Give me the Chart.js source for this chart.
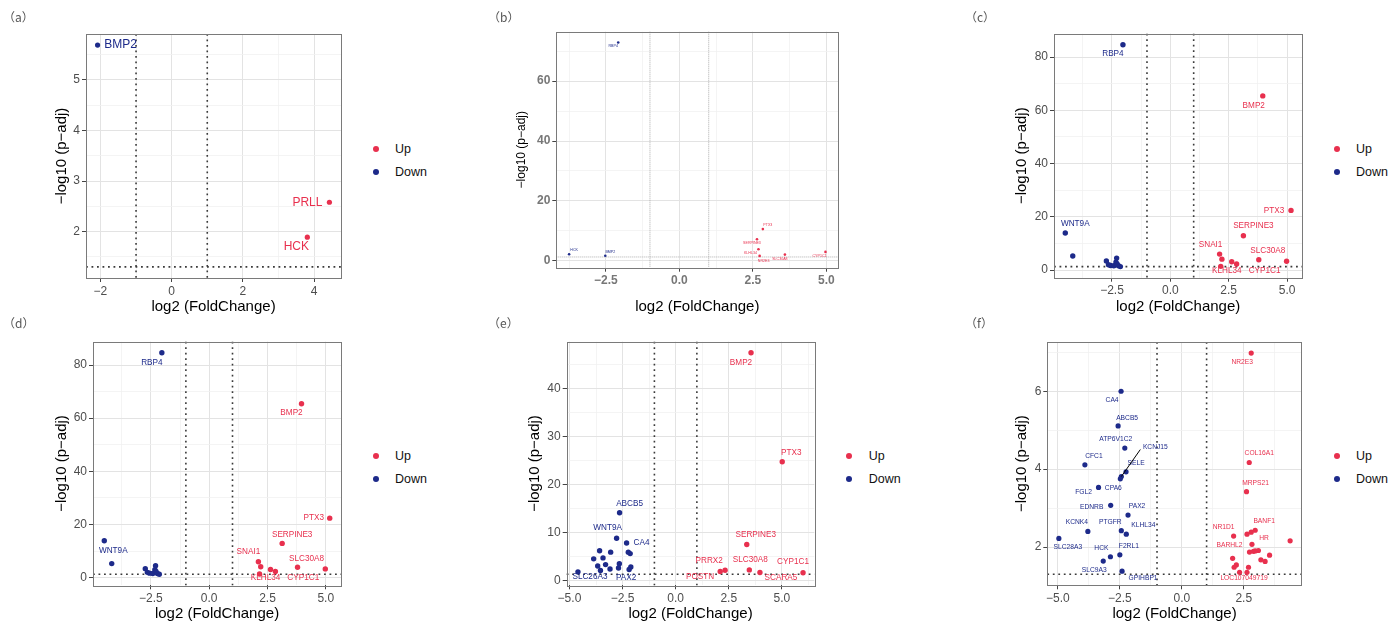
<!DOCTYPE html>
<html>
<head>
<meta charset="utf-8">
<script src="https://cdn.jsdelivr.net/npm/chart.js@4.4.1/dist/chart.umd.min.js"></script>
<style>
    body { margin: 0; background: #fff; width: 1400px; height: 626px; position: relative; overflow: hidden; font-family: "Liberation Sans", Arial, sans-serif; }
    canvas { position: absolute; }
    .tag { position: absolute; font-family: "Noto Sans CJK SC", sans-serif; font-size: 12px; line-height: 12px; color: #555; }
    .key { position: absolute; font-size: 12.5px; line-height: 14px; color: #111; }
    .dot { position: absolute; width: 6px; height: 6px; border-radius: 50%; }
</style>
</head>
<body>
<script>
// === Datos ===
const fcCut = [-1, 1];
const padjCut = -Math.log10(0.05);

// (a)
const aGenes = ['BMP2', 'PRLL', 'HCK'];
const aLogFC = [-2.08, 4.43, 3.81];
const aNegLogP = [5.69, 2.58, 1.89];

// (b)
const bGenes = ['RBP4', 'HCK', 'BMP2', 'PTX3', 'SERPINE3', 'KLHL34', 'NR2E3', 'SLC30A8', 'CYP1C1'];
const bLogFC = [-2.08, -3.75, -2.52, 2.84, 2.64, 2.69, 2.73, 3.59, 4.97];
const bNegLogP = [72.9, 2.2, 1.7, 10.6, 7.2, 3.9, 1.66, 2.1, 3.0];

// (c) y (d): mismos genes
const cGenes = ['RBP4', 'WNT9A', '', '', '', '', '', '', '', '', '', '',
    'BMP2', 'PTX3', 'SERPINE3', 'SNAI1', '', '', '', 'SLC30A8', 'CYP1C1', 'KLHL34'];
const cLogFC = [-2.03, -4.5, -4.18, -2.74, -2.3, -2.33, -2.56, -2.42, -2.22, -2.14, -2.65, -2.28,
    3.96, 5.17, 3.13, 2.11, 2.21, 2.63, 2.84, 3.79, 4.98, 2.16];
const cNegLogP = [84.6, 13.9, 5.3, 3.4, 4.5, 3.0, 1.7, 1.6, 1.6, 1.3, 2.0, 2.3,
    65.4, 22.4, 12.9, 6.0, 4.1, 3.1, 2.3, 3.9, 3.3, 1.4];

// (e)
const eGenes = ['ABCB5', 'WNT9A', 'CA4', '', '', '', '', '', '', '', '', '', '', '', '', 'PAX2', '', 'SLC26A3',
    'BMP2', 'PTX3', 'SERPINE3', 'SLC30A8', 'SCARA5', 'CYP1C1', 'PRRX2', 'POSTN'];
const eLogFC = [-2.64, -2.78, -2.31, -2.23, -2.14, -3.58, -3.06, -3.86, -3.42, -3.3, -3.67, -3.09, -2.65, -2.69, -2.11, -2.19, -3.54, -4.6,
    3.55, 5.02, 3.35, 3.47, 3.97, 6.0, 2.1, 2.33];
const eNegLogP = [14.1, 8.8, 7.8, 5.9, 5.6, 6.2, 5.9, 4.5, 4.7, 3.3, 3.0, 2.4, 3.5, 2.6, 2.8, 2.3, 2.1, 1.8,
    47.4, 24.7, 7.5, 2.2, 1.66, 1.6, 1.87, 2.14];

// (f)
const fGenes = ['CA4', 'ABCB5', 'ATP6V1C2', 'CFC1', 'SELE', 'KCNJ15', 'CPA6', 'FGL2', 'EDNRB', 'PAX2', 'PTGFR', 'KLHL34',
    'KCNK4', 'SLC28A3', 'F2RL1', 'HCK', 'SLC9A3', 'GPIHBP1',
    'NR2E3', 'COL16A1', 'MRPS21', 'NR1D1', '', '', 'BANF1', '', 'HR', 'BARHL2', '', '', '', '', '', '', '', '', '', '', '', 'LOC107049719'];
const fLogFC = [-2.45, -2.57, -2.3, -3.91, -2.25, -2.44, -2.48, -3.36, -2.87, -2.17, -2.44, -2.24,
    -3.79, -4.96, -2.5, -2.88, -3.17, -2.41,
    2.8, 2.72, 2.61, 2.09, 2.63, 2.8, 2.96, 4.37, 2.83, 2.73, 2.89, 3.09, 2.96, 3.54, 3.19, 3.36, 2.05, 2.2, 2.11, 2.69, 2.33, 2.63];
const fNegLogP = [6.0, 5.11, 4.54, 4.11, 3.93, 3.81, 3.75, 3.53, 3.07, 2.82, 2.42, 2.33,
    2.4, 2.22, 1.8, 1.75, 1.64, 1.38,
    6.98, 4.17, 3.42, 2.28, 2.33, 2.38, 2.43, 2.16, 2.07, 1.87, 1.89, 1.91, 1.9, 1.79, 1.67, 1.63, 1.71, 1.54, 1.48, 1.48, 1.35, 1.35];

// Ticks principales
const ticksA = { x: [-2, 0, 2, 4], y: [2, 3, 4, 5] };
const ticksB = { x: [-2.5, 0, 2.5, 5], y: [0, 20, 40, 60] };
const ticksC = { x: [-2.5, 0, 2.5, 5], y: [0, 20, 40, 60, 80] };
const ticksE = { x: [-5, -2.5, 0, 2.5, 5], y: [0, 10, 20, 30, 40] };
const ticksF = { x: [-5, -2.5, 0, 2.5], y: [2, 4, 6] };

// Posición de etiquetas (dx, dy en px respecto al punto; tercer valor = línea guía)
const aLabels = { BMP2: [23, 0], PRLL: [-22, 0], HCK: [-11, 10] };
const bLabels = { RBP4: [-5, 4], HCK: [5, -4], BMP2: [5, -4], PTX3: [5, -4], SERPINE3: [-5, 4],
    KLHL34: [-8, 4], NR2E3: [4, 5], SLC30A8: [-5, 4], CYP1C1: [-6, 4] };
const cLabels = { RBP4: [-10, 9], BMP2: [-9, 10], PTX3: [-17, 0], SERPINE3: [10, -10], SNAI1: [-9, -9],
    SLC30A8: [9, -9], KLHL34: [6, 4], CYP1C1: [-22, 9], WNT9A: [10, -9] };
const dLabels = { RBP4: [-10, 10], BMP2: [-10, 9], PTX3: [-16, 0], SERPINE3: [10, -9], SNAI1: [-10, -10],
    SLC30A8: [9, -9], KLHL34: [6, 4], CYP1C1: [-22, 9], WNT9A: [9, 10] };
const eLabels = { BMP2: [-10, 10], PTX3: [9, -9], SERPINE3: [9, -10], SLC30A8: [1, -10], CYP1C1: [-10, -11],
    SCARA5: [21, 5], PRRX2: [-11, -11], POSTN: [-25, 7], ABCB5: [10, -9], WNT9A: [-9, -10], CA4: [15, 0],
    SLC26A3: [12, 5], PAX2: [-3, 8] };
const fLabels = { NR2E3: [-9, 9], COL16A1: [10, -9], MRPS21: [9, -9], NR1D1: [-10, -9], BANF1: [9, -9],
    HR: [12, -6], BARHL2: [-20, -7], LOC107049719: [-3, 6], CA4: [-9, 9], ABCB5: [9, -8],
    ATP6V1C2: [-9, -9], KCNJ15: [34, -29, 19], SELE: [10, -9], CFC1: [9, -9], FGL2: [-15, 5], CPA6: [-7, 9],
    EDNRB: [-19, 2], PAX2: [9, -9], PTGFR: [-11, -9], KLHL34: [17, -9], KCNK4: [-11, -9], SLC28A3: [9, 9],
    HCK: [-9, -9], F2RL1: [9, -9], SLC9A3: [-9, 9], GPIHBP1: [21, 7] };

const upColor = '#E8304E';
const downColor = '#1D2A8A';
const fontFamily = '"Liberation Sans", Arial, sans-serif';

// Rango con expansión del 5% (como ggplot)
function expand(vals) {
    const lo = Math.min(...vals), hi = Math.max(...vals);
    const pad = (hi - lo) * 0.05;
    return [lo - pad, hi + pad];
}

function withMinor(major, range) {
    const step = major[1] - major[0];
    const out = [];
    for (let v = major[0] - step; v <= major[major.length - 1] + step + 1e-9; v += step / 2) {
        if (v >= range[0] && v <= range[1]) out.push(+v.toFixed(4));
    }
    return out;
}

function fmt(v, dec) {
    return (v < 0 ? '\u2212' : '') + Math.abs(v).toFixed(dec);
}

const cutLines = {
    id: 'cutLines',
    beforeDatasetsDraw(chart, args, opts) {
        const { ctx, chartArea: a, scales: { x, y } } = chart;
        ctx.save();
        ctx.strokeStyle = opts.color;
        ctx.lineWidth = opts.width;
        ctx.setLineDash(opts.dash);
        fcCut.forEach(v => {
            const px = x.getPixelForValue(v);
            ctx.beginPath(); ctx.moveTo(px, a.top); ctx.lineTo(px, a.bottom); ctx.stroke();
        });
        const py = y.getPixelForValue(padjCut);
        ctx.beginPath(); ctx.moveTo(a.left, py); ctx.lineTo(a.right, py); ctx.stroke();
        ctx.restore();
    },
    afterDraw(chart) {
        const { ctx, chartArea: a } = chart;
        ctx.save();
        ctx.strokeStyle = '#7a7a7a';
        ctx.lineWidth = 1;
        ctx.strokeRect(Math.round(a.left) + 0.5, Math.round(a.top) + 0.5,
            Math.round(a.right - a.left), Math.round(a.bottom - a.top));
        ctx.restore();
    }
};

const geneLabels = {
    id: 'geneLabels',
    afterDatasetsDraw(chart, args, opts) {
        const ctx = chart.ctx;
        ctx.save();
        ctx.font = opts.size + 'px ' + fontFamily;
        ctx.textAlign = 'center';
        ctx.textBaseline = 'middle';
        chart.data.datasets.forEach((ds, i) => {
            const meta = chart.getDatasetMeta(i);
            meta.data.forEach((pt, j) => {
                const gene = ds.data[j].gene;
                const pos = opts.pos[gene];
                if (!gene || !pos) return;
                if (pos[2]) {
                    ctx.strokeStyle = '#000';
                    ctx.lineWidth = 1;
                    ctx.beginPath();
                    ctx.moveTo(pt.x, pt.y);
                    ctx.lineTo(pt.x + pos[2], pt.y + pos[1] + 2);
                    ctx.stroke();
                }
                ctx.fillStyle = ds.backgroundColor;
                ctx.fillText(gene, pt.x + pos[0], pt.y + pos[1]);
            });
        });
        ctx.restore();
    }
};

function axis(major, range, dec, size, title, horizontal, p) {
    const isMajor = v => major.some(m => Math.abs(m - v) < 1e-6);
    return {
        type: 'linear',
        min: range[0],
        max: range[1],
        afterBuildTicks: s => { s.ticks = withMinor(major, range).map(v => ({ value: v })); },
        afterFit: s => { if (horizontal) s.height = size; else s.width = size; },
        border: { display: false },
        grid: {
            color: c => c.tick && isMajor(c.tick.value) ? '#e3e3e3' : '#f1f1f1',
            lineWidth: c => c.tick && isMajor(c.tick.value) ? 1 : 0.8,
            tickColor: c => c.tick && isMajor(c.tick.value) ? '#444' : 'rgba(0,0,0,0)',
            tickLength: 4,
            drawTicks: true
        },
        ticks: {
            autoSkip: false,
            maxRotation: 0,
            padding: 2,
            color: p.tickColor || '#4d4d4d',
            font: { family: fontFamily, size: 12, weight: p.tickWeight || 'normal' },
            callback: v => isMajor(v) ? fmt(v, dec) : ''
        },
        title: {
            display: true,
            text: title,
            color: '#000',
            font: { family: fontFamily, size: horizontal ? 15 : (p.yTitleSize || 15) },
            padding: horizontal ? { top: 0, bottom: p.xTitlePad } : { top: p.yTitlePad, bottom: 0 }
        }
    };
}

function drawPanel(p) {
    const cv = document.createElement('canvas');
    cv.width = p.box[2];
    cv.height = p.box[3];
    cv.style.left = p.box[0] + 'px';
    cv.style.top = p.box[1] + 'px';
    document.body.appendChild(cv);

    const xr = expand(p.fc.concat(fcCut));
    const yr = expand(p.p.concat([padjCut]));
    const up = [], down = [];
    p.fc.forEach((v, i) => (v > 0 ? up : down).push({ x: v, y: p.p[i], gene: p.genes[i] }));

    new Chart(cv.getContext('2d'), {
        type: 'scatter',
        data: {
            datasets: [
                { label: 'Up', data: up, backgroundColor: upColor, pointRadius: p.r, borderWidth: 0 },
                { label: 'Down', data: down, backgroundColor: downColor, pointRadius: p.r, borderWidth: 0 }
            ]
        },
        options: {
            responsive: false,
            animation: false,
            devicePixelRatio: 1,
            layout: { padding: { left: 0, top: p.padTop, right: p.padRight, bottom: 0 } },
            plugins: {
                legend: { display: false },
                tooltip: { enabled: false },
                geneLabels: { size: p.labelSize, pos: p.labels },
                cutLines: p.cut
            },
            scales: {
                x: axis(p.ticks.x, xr, p.xDec, p.xH, 'log2 (FoldChange)', true, p),
                y: axis(p.ticks.y, yr, 0, p.yW, '\u2212log10 (p\u2212adj)', false, p)
            }
        },
        plugins: [cutLines, geneLabels]
    });
}

function addTag(text, x, y) {
    const d = document.createElement('div');
    d.className = 'tag';
    d.textContent = text;
    d.style.left = x + 'px';
    d.style.top = y + 'px';
    document.body.appendChild(d);
}

function addLegend(x, ys, textX) {
    [['Up', upColor, ys[0]], ['Down', downColor, ys[1]]].forEach(([t, c, yy]) => {
        const d = document.createElement('div');
        d.className = 'dot';
        d.style.background = c;
        d.style.left = (x - 3) + 'px';
        d.style.top = (yy - 3) + 'px';
        document.body.appendChild(d);
        const k = document.createElement('div');
        k.className = 'key';
        k.textContent = t;
        k.style.left = textX + 'px';
        k.style.top = (yy - 7) + 'px';
        document.body.appendChild(k);
    });
}

const boldCut = { color: '#3a3a3a', width: 1.6, dash: [1.8, 3.7] };
const thinCut = { color: '#999', width: 0.8, dash: [1, 1] };

drawPanel({ box: [0, 0, 350, 316], genes: aGenes, fc: aLogFC, p: aNegLogP, ticks: ticksA, xDec: 0,
    padTop: 34, padRight: 9, yW: 86, xH: 38, yTitlePad: 53, xTitlePad: 0.3,
    r: 2.6, labelSize: 12, labels: aLabels, cut: boldCut });
drawPanel({ box: [470, 0, 380, 316], genes: bGenes, fc: bLogFC, p: bNegLogP, ticks: ticksB, xDec: 1,
    padTop: 31.7, padRight: 11.7, yW: 86.3, xH: 48.3, yTitlePad: 44.5, xTitlePad: 0.3, yTitleSize: 12,
    tickColor: '#777', tickWeight: 'bold',
    r: 1.3, labelSize: 3.6, labels: bLabels, cut: thinCut });
drawPanel({ box: [950, 0, 360, 316], genes: cGenes, fc: cLogFC, p: cNegLogP, ticks: ticksC, xDec: 1,
    padTop: 33.7, padRight: 7.7, yW: 104, xH: 38.3, yTitlePad: 62.7, xTitlePad: 0.3,
    r: 2.7, labelSize: 8.2, labels: cLabels, cut: boldCut });
drawPanel({ box: [0, 316, 350, 310], genes: cGenes, fc: cLogFC, p: cNegLogP, ticks: ticksC, xDec: 1,
    padTop: 25.7, padRight: 9, yW: 93, xH: 40.7, yTitlePad: 52.7, xTitlePad: 3,
    r: 2.7, labelSize: 8.2, labels: dLabels, cut: boldCut });
drawPanel({ box: [470, 316, 355, 310], genes: eGenes, fc: eLogFC, p: eNegLogP, ticks: ticksE, xDec: 1,
    padTop: 25.7, padRight: 10.7, yW: 96.7, xH: 40.7, yTitlePad: 56, xTitlePad: 3,
    r: 2.7, labelSize: 8.2, labels: eLabels, cut: boldCut });
drawPanel({ box: [950, 316, 360, 310], genes: fGenes, fc: fLogFC, p: fNegLogP, ticks: ticksF, xDec: 1,
    padTop: 26, padRight: 8.3, yW: 97.3, xH: 40.7, yTitlePad: 62.7, xTitlePad: 3,
    r: 2.6, labelSize: 6.7, labels: fLabels, cut: boldCut });

addTag('（a）', 3, 11);
addTag('（b）', 488, 11);
addTag('（c）', 965, 11);
addTag('（d）', 3, 317);
addTag('（e）', 488, 317);
addTag('（f）', 965, 317);

addLegend(376, [149, 172], 395);
addLegend(1337, [149, 172.3], 1356);
addLegend(376, [455.7, 479.3], 395);
addLegend(849.3, [455.7, 479.3], 868.7);
addLegend(1337, [455.7, 479.3], 1356);
</script>
</body>
</html>
